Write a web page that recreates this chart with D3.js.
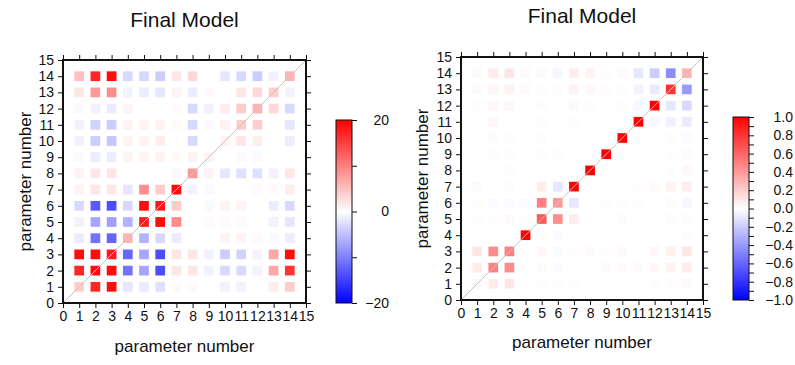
<!DOCTYPE html>
<html>
<head>
<meta charset="utf-8">
<script src="https://cdn.jsdelivr.net/npm/d3@7"></script>
<style>
  body { margin: 0; background: #fff; }
  text { font-family: "Liberation Sans", Arial, Helvetica, sans-serif; }
</style>
</head>
<body>
<div id="container"></div>
<script>
// parameter numbers of the matrix cells and the axis ticks
let params = [1, 2, 3, 4, 5, 6, 7, 8, 9, 10, 11, 12, 13, 14];
let axisTicks = [0, 1, 2, 3, 4, 5, 6, 7, 8, 9, 10, 11, 12, 13, 14, 15];
// rows listed top to bottom
let rowOrder = [14, 13, 12, 11, 10, 9, 8, 7, 6, 5, 4, 3, 2, 1];

// left panel (scale -20..20)
let leftRows = [
  [5, 17, 19, -3, -3, -4, 2, 3, 0, -2, -3, -4, -1, 6],
  [2, 8, 9, -1, -1.5, -2, 1, -1.5, 0.5, 0, 2, 3, 4, -1],
  [-0.5, -1, -1.5, 1, 0, 0, 0.5, -3, -1, 1.5, 4, 6, 3, -3],
  [-1, -3.5, -4, 1, 1, 1, 0.5, -3, -0.5, 1, 4, 4, 0, -2],
  [-1, -4, -4.5, 1, 1, 1.5, 0, -3, 0, 1, 2, 1.5, 0, -1.5],
  [-0.5, -1.5, -1.5, 1, 1, 1, 0.5, 1, 1, 0, -0.5, -0.5, 0, 0],
  [1, 2, 2, 0, 0, 0, -0.5, 8, 1, -2, -2.5, -2.5, -1, 2],
  [1, 2, 2, -2, 9, 4, 19, -1, -0.5, 0, 0, 0.5, 0.5, 1.5],
  [-3, -13, -14, -3, 19, 18, 4, 0, -0.5, 1, 1, 0, -1.5, -3],
  [-1, -7, -7.5, -6, 18, 19, 9, 0, 0.5, 0.5, 0.5, 0, -1, -2],
  [-1.5, -11, -12, 6, -6, -3, -1.5, 0, 0, 1, 1, 0.5, -0.5, -1.5],
  [19, 19, 18, -12, -7, -14, 2, 2, -1, -4, -3.5, -1, 7, 19],
  [17, 19, 19, -11, -7, -14, 2, 2, -1, -3, -3, -1, 7, 16],
  [4, 17, 19, -2, -1.5, -2.5, 0.5, 0.5, 0, -1, -1, 0, 1.5, 4]
];

// right panel (scale -1..1)
let rightRows = [
  [0.02, 0.08, 0.1, 0.02, 0.02, -0.03, 0.07, 0.05, 0.01, 0.02, -0.1, -0.2, -0.45, 0.3],
  [0.02, 0.04, 0.05, 0.02, 0.01, 0.01, 0.05, 0.03, 0.01, 0.01, -0.05, -0.08, 0.8, -0.4],
  [0.01, 0.04, 0.03, 0, -0.01, 0, 0.02, 0.01, 0, 0.01, -0.03, 1.0, -0.1, -0.15],
  [0, 0.03, 0, 0, -0.01, 0, 0.01, 0, 0, 0, 1.0, -0.03, -0.05, -0.08],
  [0, 0.02, 0.01, 0, -0.01, 0, 0, 0, 0, 1.0, 0, 0, 0.01, -0.02],
  [0, 0.01, 0.01, 0, -0.01, 0.01, 0, 0, 1.0, 0, 0, 0, 0.01, 0.02],
  [0, 0, 0.01, 0, 0, 0, 0, 1.0, 0, 0, 0, 0, 0.01, 0.03],
  [0.02, 0, -0.01, 0, 0.07, -0.1, 1.0, 0, 0, 0, 0.01, 0.02, 0.05, 0.07],
  [0.01, -0.02, -0.02, -0.02, 0.5, 0.4, -0.1, 0, 0.01, 0.01, 0.01, 0, -0.01, -0.03],
  [0.01, 0.01, 0.02, 0.01, 0.65, 0.45, 0.07, 0, 0, -0.01, 0, 0, -0.01, -0.01],
  [0, 0, 0, 1.0, 0.01, -0.02, 0, 0, 0, 0, 0, 0, 0, -0.01],
  [0.1, 0.45, 0.5, 0, 0.03, -0.02, 0.01, 0.02, 0.01, 0.02, 0, 0.03, 0.06, 0.1],
  [0.08, 0.5, 0.45, 0, 0.02, -0.02, 0, 0, 0.02, 0.02, 0.02, 0.03, 0.05, 0.07],
  [0.02, 0.08, 0.1, 0, 0.01, 0.01, 0.01, 0, 0, 0, 0, 0.01, 0.01, 0.02]
];

// colour bar ticks / labels
let leftCbTicks = [-20, -10, 0, 10, 20];
let leftCbLabels = [-20, 0, 20];
let rightCbTicks = [-1.0, -0.9, -0.8, -0.7, -0.6, -0.5, -0.4, -0.3, -0.2, -0.1, 0, 0.1, 0.2, 0.3, 0.4, 0.5, 0.6, 0.7, 0.8, 0.9, 1.0];
let rightCbLabels = [-1.0, -0.8, -0.6, -0.4, -0.2, 0, 0.2, 0.4, 0.6, 0.8, 1.0];

let w = 795;
let h = 365;

let viz = d3.select("#container")
  .append("svg")
    .attr("width", w)
    .attr("height", h)
;

function drawPanel(cfg){
  let g = viz.append("g");

  let xScale = d3.scaleLinear().domain([0, 15]).range([cfg.left, cfg.right]);
  let yScale = d3.scaleLinear().domain([0, 15]).range([cfg.bottom, cfg.top]);
  let color = d3.scaleLinear()
    .domain([-cfg.max, 0, cfg.max])
    .range(["#0000ff", "#ffffff", "#ff0000"])
    .clamp(true);

  // title
  g.append("text")
    .attr("x", (cfg.left + cfg.right) / 2)
    .attr("y", cfg.titleY)
    .attr("text-anchor", "middle")
    .attr("font-size", 21)
    .attr("fill", "#111")
    .text("Final Model");

  // cells
  let cells = [];
  cfg.rows.forEach(function(row, i){
    row.forEach(function(v, j){
      cells.push({ x: params[j], y: rowOrder[i], v: v });
    });
  });
  let cs = xScale(0.6) - xScale(0);
  g.append("g").selectAll("rect")
    .data(cells)
    .enter()
    .append("rect")
      .attr("x", function(d){ return xScale(d.x) - cs / 2; })
      .attr("y", function(d){ return yScale(d.y) - cs / 2; })
      .attr("width", cs)
      .attr("height", cs)
      .attr("fill", function(d){ return color(d.v); })
  ;

  // diagonal
  g.append("line")
    .attr("x1", xScale(0)).attr("y1", yScale(0))
    .attr("x2", xScale(15)).attr("y2", yScale(15))
    .attr("stroke", "#c4c4c4")
    .attr("stroke-width", 1);

  // axes (outward ticks on all sides)
  let bottom = g.append("g")
    .attr("transform", "translate(0," + cfg.bottom + ")")
    .call(d3.axisBottom(xScale).tickValues(axisTicks).tickSize(5).tickSizeOuter(0).tickPadding(3));
  let top = g.append("g")
    .attr("transform", "translate(0," + cfg.top + ")")
    .call(d3.axisTop(xScale).tickValues(axisTicks).tickSize(5).tickSizeOuter(0).tickFormat(""));
  let left = g.append("g")
    .attr("transform", "translate(" + cfg.left + ",0)")
    .call(d3.axisLeft(yScale).tickValues(axisTicks).tickSize(5).tickSizeOuter(0).tickPadding(4));
  let right = g.append("g")
    .attr("transform", "translate(" + cfg.right + ",0)")
    .call(d3.axisRight(yScale).tickValues(axisTicks).tickSize(5).tickSizeOuter(0).tickFormat(""));
  [bottom, top, left, right].forEach(function(a){
    a.select(".domain").remove();
    a.selectAll("line").attr("stroke", "#111");
    a.selectAll("text")
      .attr("font-family", "Liberation Sans, Arial, sans-serif")
      .attr("font-size", 14)
      .attr("fill", "#111");
  });

  // frame
  g.append("rect")
    .attr("x", cfg.left).attr("y", cfg.top)
    .attr("width", cfg.right - cfg.left)
    .attr("height", cfg.bottom - cfg.top)
    .attr("fill", "none")
    .attr("stroke", "#111")
    .attr("stroke-width", 2);

  // axis titles
  g.append("text")
    .attr("x", (cfg.left + cfg.right) / 2)
    .attr("y", cfg.xLabelY)
    .attr("text-anchor", "middle")
    .attr("font-size", 17)
    .attr("fill", "#111")
    .text("parameter number");
  g.append("text")
    .attr("transform", "translate(" + cfg.yLabelX + "," + (cfg.top + cfg.bottom) / 2 + ") rotate(-90)")
    .attr("text-anchor", "middle")
    .attr("font-size", 17)
    .attr("fill", "#111")
    .text("parameter number");

  // colour bar
  let gradId = "grad" + cfg.id;
  let grad = viz.append("defs").append("linearGradient")
    .attr("id", gradId)
    .attr("x1", 0).attr("y1", 1).attr("x2", 0).attr("y2", 0);
  grad.append("stop").attr("offset", "0%").attr("stop-color", "#0000ff");
  grad.append("stop").attr("offset", "50%").attr("stop-color", "#ffffff");
  grad.append("stop").attr("offset", "100%").attr("stop-color", "#ff0000");

  let cbScale = d3.scaleLinear().domain([-cfg.max, cfg.max]).range([cfg.cbBottom, cfg.cbTop]);
  g.append("rect")
    .attr("x", cfg.cbLeft).attr("y", cfg.cbTop)
    .attr("width", cfg.cbWidth)
    .attr("height", cfg.cbBottom - cfg.cbTop)
    .attr("fill", "url(#" + gradId + ")")
    .attr("stroke", "#111")
    .attr("stroke-width", 1);

  let cbAxis = g.append("g")
    .attr("transform", "translate(" + (cfg.cbLeft + cfg.cbWidth) + ",0)")
    .call(d3.axisRight(cbScale)
      .tickValues(cfg.cbTicks)
      .tickSize(5)
      .tickSizeOuter(0)
      .tickFormat(function(d){
        let hit = cfg.cbLabels.some(function(l){ return Math.abs(l - d) < 1e-9; });
        return hit ? cfg.cbFormat(d) : "";
      }));
  cbAxis.select(".domain").remove();
  cbAxis.selectAll("line").attr("stroke", "#111");
  cbAxis.selectAll("text")
    .attr("font-family", "Liberation Sans, Arial, sans-serif")
    .attr("font-size", 14)
    .attr("fill", "#111")
    .attr("text-anchor", "end")
    .attr("x", cfg.cbLabelRight - (cfg.cbLeft + cfg.cbWidth));
}

drawPanel({
  id: "L",
  rows: leftRows,
  max: 20,
  left: 63, right: 306, top: 60, bottom: 303,
  titleY: 27,
  xLabelY: 352,
  yLabelX: 31,
  cbLeft: 336, cbWidth: 16, cbTop: 120, cbBottom: 303,
  cbTicks: leftCbTicks, cbLabels: leftCbLabels,
  cbFormat: d3.format("d"),
  cbLabelRight: 389
});

drawPanel({
  id: "R",
  rows: rightRows,
  max: 1,
  left: 461, right: 703, top: 57, bottom: 300,
  titleY: 23,
  xLabelY: 348,
  yLabelX: 428,
  cbLeft: 733, cbWidth: 16, cbTop: 117, cbBottom: 300,
  cbTicks: rightCbTicks, cbLabels: rightCbLabels,
  cbFormat: d3.format(".1f"),
  cbLabelRight: 793
});
</script>
</body>
</html>
